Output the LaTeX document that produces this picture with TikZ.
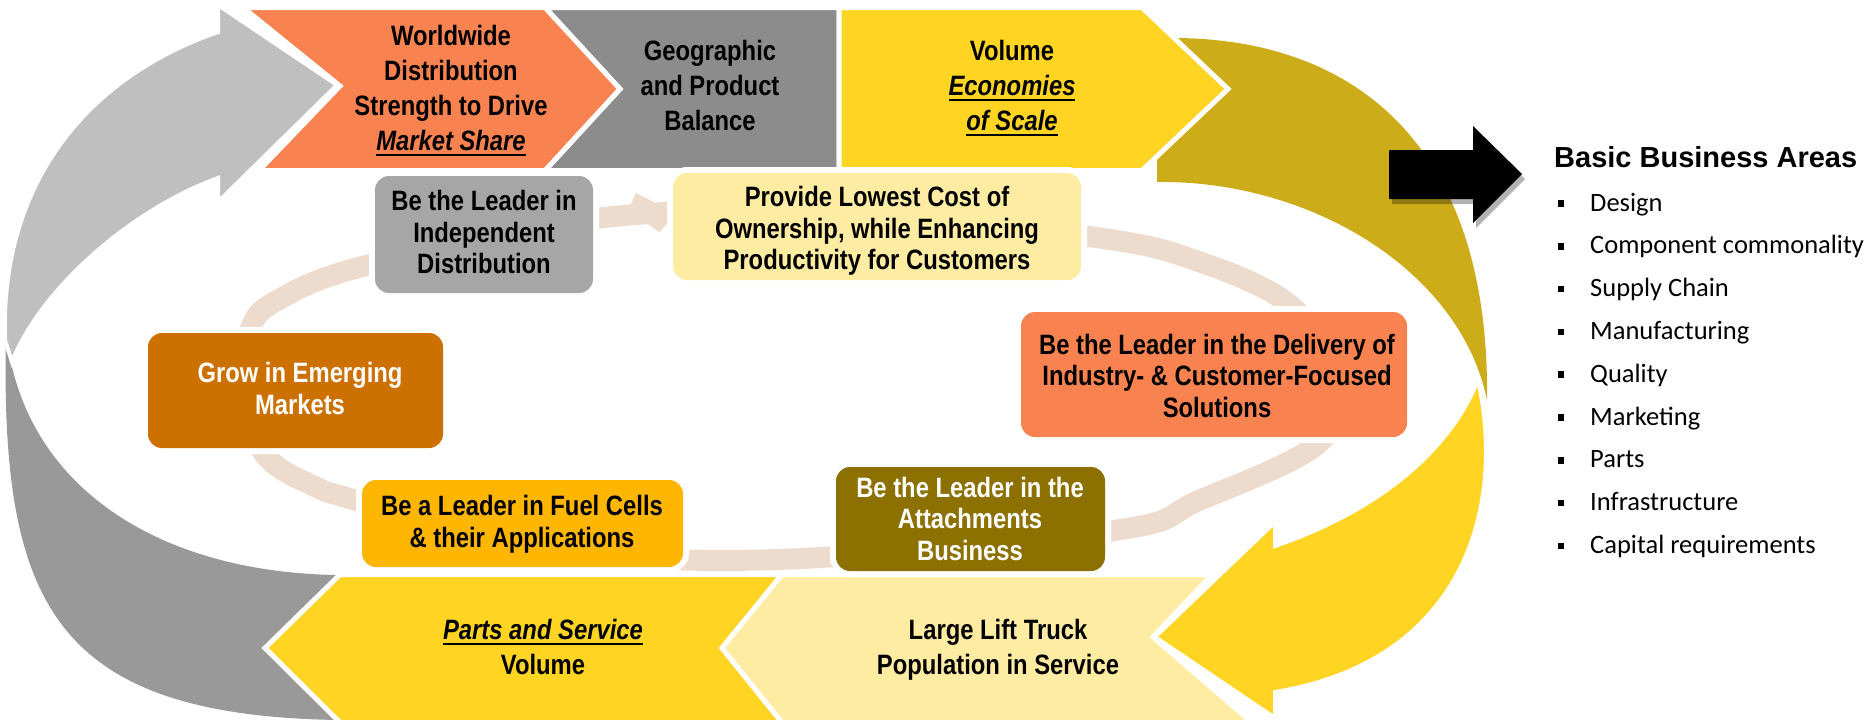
\documentclass[tikz,border=0pt]{standalone}
\usepackage{fontspec}
\newfontfamily\narrowfont{Liberation Sans}[FakeStretch=0.85]
\newfontfamily\arialfont{Liberation Sans}
\newfontfamily\calfont{Carlito}
\newsavebox\ulbox
\newcommand\myul[1]{\sbox\ulbox{#1}\leavevmode\rlap{\rule[-5.5pt]{\wd\ulbox}{2.6pt}}\usebox\ulbox}
\definecolor{cOrange}{HTML}{F88350}
\definecolor{cGrayChev}{HTML}{8C8C8C}
\definecolor{cYellow}{HTML}{FFD422}
\definecolor{cLightYel}{HTML}{FFECA3}
\definecolor{cOlive}{HTML}{CDAC1A}
\definecolor{cLGray}{HTML}{BFBFBF}
\definecolor{cDGray}{HTML}{999999}
\definecolor{cBoxGray}{HTML}{A6A6A6}
\definecolor{cGrow}{HTML}{CC7000}
\definecolor{cFuel}{HTML}{FFB600}
\definecolor{cAttach}{HTML}{8C7100}
\definecolor{cRing}{HTML}{EDDCCE}
\begin{document}
\begin{tikzpicture}[x=1pt,y=-1pt,
  chev/.style={draw=white,line width=5pt,line join=miter},
  arrw/.style={draw=white,line width=4pt,line join=miter},
  bx/.style={rounded corners=14pt,inner sep=0pt,preaction={draw=white,line width=12pt}},
  chtext/.style={align=center,inner sep=0pt,font=\narrowfont\bfseries\fontsize{28}{35}\selectfont,execute at begin node=\strut,execute at end node=\strut},
  bxtext/.style={chtext,font=\narrowfont\bfseries\fontsize{28}{31.5}\selectfont},
  item/.style={anchor=base west,inner sep=0pt,font=\calfont\fontsize{26.5}{30}\selectfont},
  bul/.style={fill=black,inner sep=0pt,minimum size=6.5pt}]
\fill[white] (0,0) rectangle (1874,723);
\useasboundingbox (0,0) rectangle (1874,723);
% inner ring
\draw[cRing,line width=21pt] plot[smooth cycle,tension=0.6] coordinates {(265,455) (242,392) (250,330) (278,300) (368,265) (600,218) (850,211) (1100,238) (1200,262) (1290,305) (1338,375) (1320,442) (1200,500) (1110,531) (760,560) (500,545) (358,501) (316,487)};
\fill[cRing] (636,193) -- (669,210) -- (669,222) -- (659,232) -- (645,222) -- (630,206) -- cycle;
% left grey arrow
\fill[cDGray] (6,330) .. controls (0,600) and (50,715) .. (337,720) -- (265,648) -- (337,575) .. controls (150,572) and (20,480) .. (6,330) -- cycle;
\path[fill=cLGray,arrw] (218,32) -- (218,5) -- (337,85) -- (218,202) -- (218,178) .. controls (130,210) and (40,290) .. (12,362) -- (5,340) .. controls (0,190) and (80,80) .. (218,32) -- cycle;
% right olive tail
\path[fill=cOlive] (1150,38) -- (1177,38) .. controls (1360,40) and (1490,150) .. (1487,400) .. controls (1460,270) and (1310,180) .. (1157,182) -- (1157,120) -- cycle;
% top chevrons
\path[fill=cGrayChev,chev] (545,7.5) -- (839,7.5) -- (839,170.5) -- (545,170.5) -- (620,89) -- cycle;
\path[fill=cOrange,chev] (243,7.5) -- (545,7.5) -- (620,89) -- (545,170.5) -- (259,170.5) -- (340,86) -- cycle;
\path[fill=cYellow,chev] (839,7.5) -- (1142,7.5) -- (1228,89) -- (1142,170.5) -- (839,170.5) -- cycle;
% bottom chevrons
\path[fill=cYellow,chev] (340,574.5) -- (782,574.5) -- (722,648) -- (782,722.5) -- (340,722.5) -- (265,648) -- cycle;
\path[fill=cLightYel,chev] (782,574.5) -- (1212,574.5) -- (1153,637) -- (1252,722.5) -- (782,722.5) -- (722,648) -- cycle;
% right yellow arrow
\path[fill=cYellow,arrw] (1155,637) -- (1275,522) -- (1275,546) .. controls (1380,510) and (1450,450) .. (1478,380) .. controls (1505,500) and (1470,660) .. (1275,692) -- (1275,718) -- cycle;
% boxes
\node[bx,fill=cBoxGray,minimum width=218pt,minimum height=117pt] (ind) at (484,234.5) {};
\node[bx,fill=cLightYel,minimum width=408pt,minimum height=107pt] (prov) at (877,226.5) {};
\node[bx,fill=cGrow,minimum width=295pt,minimum height=115pt] (grow) at (295.5,390.5) {};
\node[bx,fill=cFuel,minimum width=321pt,minimum height=87pt] (fuel) at (522.5,523.5) {};
\node[bx,fill=cAttach,minimum width=269pt,minimum height=104pt] (att) at (970.5,519) {};
\node[bx,fill=cOrange,minimum width=386pt,minimum height=125pt] (del) at (1214,374.5) {};
% chevron texts
\node[chtext] (wwT) at (451,93.5) {Worldwide\\Distribution\\Strength to Drive\\\textit{\myul{Market Share}}};
\node[chtext] (geoT) at (710,91) {Geographic\\and Product\\Balance};
\node[chtext] (volT) at (1012,91) {Volume\\\textit{\myul{Economies}}\\\textit{\myul{of Scale}}};
\node[chtext] (partsT) at (543,652.5) {\textit{\myul{Parts and Service}}\\Volume};
\node[chtext] (lltT) at (998,652.5) {Large Lift Truck\\Population in Service};
% box texts
\node[bxtext] (indT) at (484,237) {Be the Leader in\\Independent\\Distribution};
\node[bxtext] (provT) at (877,233) {Provide Lowest Cost of\\Ownership, while Enhancing\\Productivity for Customers};
\node[bxtext,text=white] (growT) at (300,393) {Grow in Emerging\\Markets};
\node[bxtext] (fuelT) at (522,526) {Be a Leader in Fuel Cells\\\& their Applications};
\node[bxtext,text=white] (attT) at (970,523.5) {Be the Leader in the\\Attachments\\Business};
\node[bxtext] (delT) at (1217,380.5) {Be the Leader in the Delivery of\\Industry- \& Customer-Focused\\Solutions};
% black arrow
\begin{scope}[shift={(3,5)}]
\fill[black,opacity=0.3] (1389,150) -- (1473,150) -- (1473,126) -- (1522,174) -- (1473,223) -- (1473,199) -- (1389,199) -- cycle;
\end{scope}
\fill[black] (1389,150) -- (1473,150) -- (1473,126) -- (1522,174) -- (1473,223) -- (1473,199) -- (1389,199) -- cycle;
% list
\node[anchor=base west,inner sep=0pt,font=\arialfont\bfseries\fontsize{29}{34}\selectfont] (bba) at (1554,167) {Basic Business Areas};
\foreach \itm [count=\i] in {Design,Component commonality,Supply Chain,Manufacturing,Quality,Marketing,Parts,Infrastructure,Capital requirements}{
  \node[item] (it\i) at (1590,{211+(\i-1)*42.8}) {\itm};
  \node[bul] (bu\i) at (1561,{203.5+(\i-1)*42.8}) {};
}
\end{tikzpicture}
\end{document}
